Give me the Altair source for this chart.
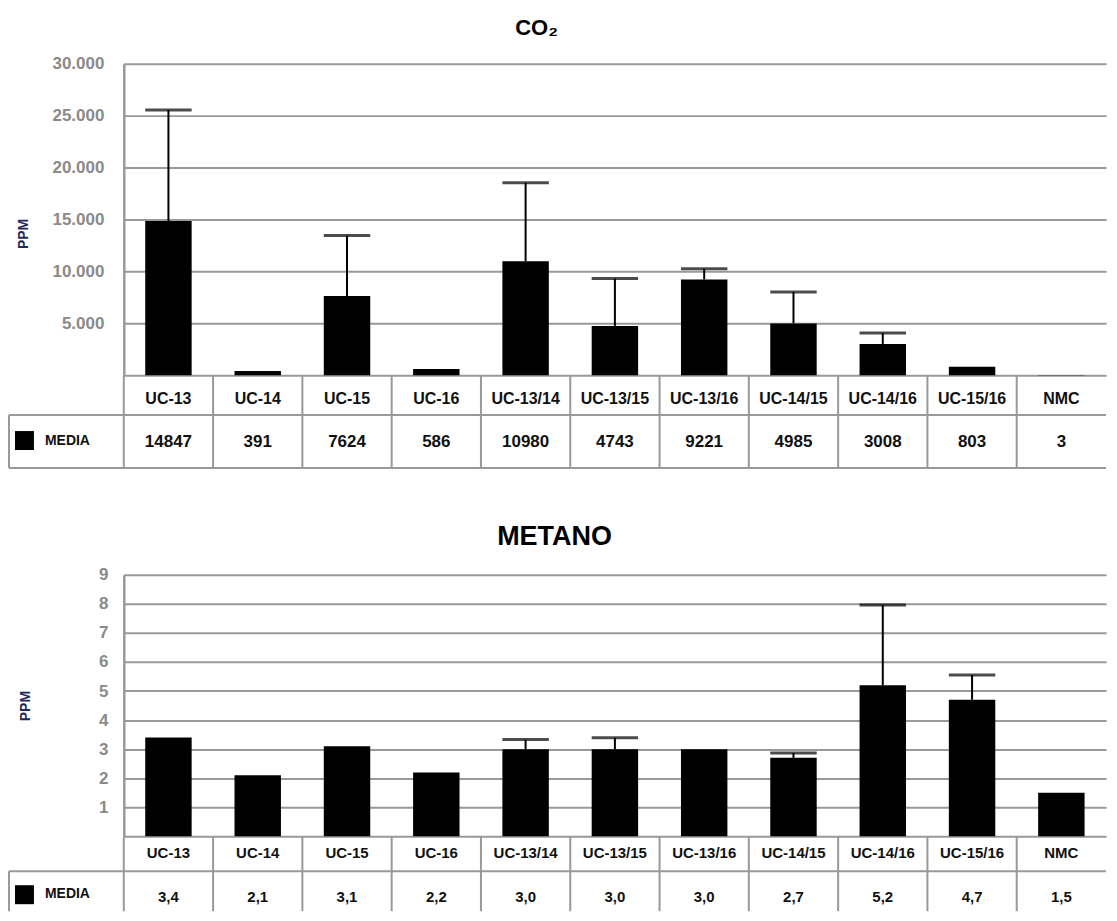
import altair as alt
import pandas as pd

categories = ["UC-13", "UC-14", "UC-15", "UC-16", "UC-13/14", "UC-13/15",
              "UC-13/16", "UC-14/15", "UC-14/16", "UC-15/16", "NMC"]

co2_media = [14847, 391, 7624, 586, 10980, 4743, 9221, 4985, 3008, 803, 3]
co2_upper = [25550, None, 13460, None, 18530, 9300, 10260, 8010, 4070, None, None]
co2_labels = ["14847", "391", "7624", "586", "10980", "4743", "9221", "4985", "3008", "803", "3"]
co2_ticks = [0, 5000, 10000, 15000, 20000, 25000, 30000]

ch4_media = [3.4, 2.1, 3.1, 2.2, 3.0, 3.0, 3.0, 2.7, 5.2, 4.7, 1.5]
ch4_upper = [None, None, None, None, 3.33, 3.39, None, 2.87, 7.96, 5.55, None]
ch4_labels = ["3,4", "2,1", "3,1", "2,2", "3,0", "3,0", "3,0", "2,7", "5,2", "4,7", "1,5"]
ch4_ticks = [0, 1, 2, 3, 4, 5, 6, 7, 8, 9]

FONT = "Liberation Sans, Arial, Helvetica, sans-serif"
LINE = "#999999"
LABEL_GRAY = "#8a8a8a"
TXT = "#111111"
PPM_COLOR = "#1f2a5a"
W = 984
BAR_FRAC = 0.52
BAR_W = W / len(categories) * BAR_FRAC


def panel(title, title_size, title_x, title_y, media, upper, labels, ticks, ymax,
          h, label_expr, label_size, label_pad, ppm_pad, ppm_y,
          header_h, table_bottom, header_y, value_y, header_size, value_size,
          sq_y, media_y, bottom_line):
    df = pd.DataFrame({"cat": categories, "media": media, "upper": upper, "label": labels})
    one = pd.DataFrame({"k": [0]})

    xscale = alt.Scale(paddingInner=0, paddingOuter=0)
    x = alt.X("cat:N", sort=categories, scale=xscale, axis=None)
    x_edge = alt.X("cat:N", sort=categories, scale=xscale, axis=None, bandPosition=0)

    axis_kw = dict(values=ticks, labelExpr=label_expr, ticks=False, domain=True,
                   domainColor=LINE, domainWidth=2.5, grid=True, gridColor=LINE,
                   gridWidth=2, labelFont=FONT, labelFontSize=label_size,
                   labelFontWeight="bold", labelColor=LABEL_GRAY, labelPadding=label_pad,
                   title="PPM", titleFont=FONT, titleFontSize=14, titleFontWeight="bold",
                   titleColor=PPM_COLOR, titlePadding=ppm_pad)
    if ppm_y is not None:
        axis_kw["titleY"] = ppm_y
    axis = alt.Axis(**axis_kw)
    yscale = alt.Scale(domain=[0, ymax], nice=False)

    base = alt.Chart(df)
    bars = base.mark_bar(color="black", width=alt.RelativeBandSize(BAR_FRAC)).encode(
        x=x, y=alt.Y("media:Q", scale=yscale, axis=axis))
    err = base.transform_filter("isValid(datum.upper)")
    stems = err.mark_rule(color="black", strokeWidth=2).encode(
        x=x, y=alt.Y("media:Q", scale=yscale, axis=axis), y2="upper:Q")
    caps = err.mark_tick(color="black", thickness=3, size=BAR_W).encode(
        x=x, y=alt.Y("upper:Q", scale=yscale, axis=axis))

    col_lines = base.mark_rule(color=LINE, strokeWidth=2).encode(
        x=x_edge, y=alt.value(h), y2=alt.value(table_bottom))
    headers = base.mark_text(font=FONT, fontSize=header_size, fontWeight="bold",
                             color=TXT, baseline="middle").encode(
        x=x, y=alt.value(header_y), text="cat:N")
    values = base.mark_text(font=FONT, fontSize=value_size, fontWeight="bold",
                            color=TXT, baseline="middle").encode(
        x=x, y=alt.value(value_y), text="label:N")

    o = alt.Chart(one)
    row_line = o.mark_rule(color=LINE, strokeWidth=2).encode(
        x=alt.value(-115), x2=alt.value(W), y=alt.value(header_h))
    left_line = o.mark_rule(color=LINE, strokeWidth=2).encode(
        x=alt.value(-115), y=alt.value(header_h), y2=alt.value(table_bottom))
    square = o.mark_rect(color="black").encode(
        x=alt.value(-109), x2=alt.value(-90), y=alt.value(sq_y), y2=alt.value(sq_y + 19))
    media_txt = o.mark_text(font=FONT, fontSize=14, fontWeight="bold", color=TXT,
                            align="left", baseline="middle").encode(
        x=alt.value(-79), y=alt.value(media_y), text=alt.value("MEDIA"))
    title_txt = o.mark_text(font=FONT, fontSize=title_size, fontWeight="bold",
                            color="black", align="center", baseline="middle").encode(
        x=alt.value(title_x), y=alt.value(title_y), text=alt.value(title))

    layers = [bars, stems, caps, col_lines, headers, values, row_line, left_line,
              square, media_txt, title_txt]
    if bottom_line:
        layers.append(o.mark_rule(color=LINE, strokeWidth=2).encode(
            x=alt.value(-115), x2=alt.value(W), y=alt.value(table_bottom)))
    return alt.layer(*layers).properties(width=W, height=h)


h1 = 312
co2 = panel("CO₂", 22, 413.5, -36, co2_media, co2_upper, co2_labels, co2_ticks, 30000,
            h1, "datum.value == 0 ? '' : replace(format(datum.value, ','), ',', '.')",
            17, 20, 21, 170,
            h1 + 40, h1 + 93, h1 + 24, h1 + 67, 16, 17,
            h1 + 56, h1 + 66, True)

h2 = 262
ch4 = panel("METANO", 27, 431.5, -38, ch4_media, ch4_upper, ch4_labels, ch4_ticks, 9,
            h2, "datum.value == 0 ? '' : format(datum.value, 'd')",
            17, 16, 66, None,
            h2 + 35, h2 + 75, h2 + 17, h2 + 61, 15, 15,
            h2 + 49, h2 + 58, False)

chart = alt.vconcat(co2, ch4, spacing=54).configure_view(stroke=None).properties(
    padding={"left": 0, "top": 8, "right": 2, "bottom": 0})

chart.save("out.html", embed_options={"renderer": "svg", "actions": False})
